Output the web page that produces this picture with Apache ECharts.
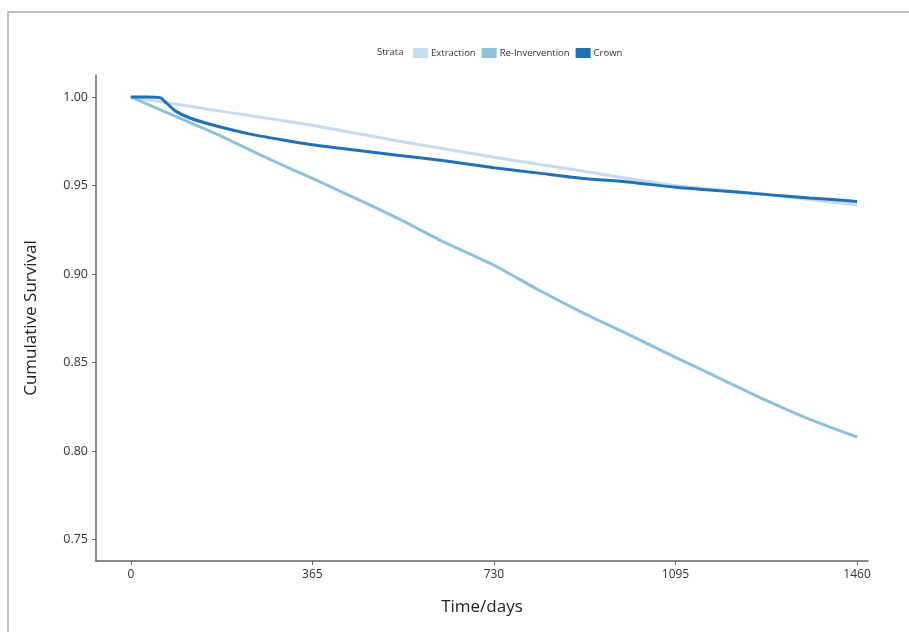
<!DOCTYPE html>
<html><head><meta charset="utf-8">
<script src="https://cdn.jsdelivr.net/npm/echarts@6/dist/echarts.min.js"></script>
<style>html,body{margin:0;padding:0;background:#fff}#c{width:909px;height:632px}</style>
</head><body><div id="c"></div>
<script>
const seriesNames = ['Extraction', 'Re-Invervention', 'Crown'];
const xTicks = [0, 365, 730, 1095, 1460];
const yTicks = [0.75, 0.80, 0.85, 0.90, 0.95, 1.00];

const extractionDays = [0, 90, 180, 365, 540, 730, 910, 1095, 1275, 1460];
const extractionVals = [1.000, 0.996, 0.992, 0.984, 0.975, 0.966, 0.958, 0.950, 0.945, 0.939];

const reintDays = [0, 90, 180, 270, 365, 450, 540, 630, 730, 820, 910, 1000, 1095, 1185, 1275, 1365, 1460];
const reintVals = [1.000, 0.989, 0.978, 0.966, 0.954, 0.943, 0.931, 0.918, 0.905, 0.891, 0.878, 0.866, 0.853, 0.841, 0.829, 0.818, 0.808];

const crownDays = [0, 30, 60, 70, 90, 120, 180, 240, 300, 365, 450, 540, 630, 730, 820, 910, 1000, 1095, 1185, 1275, 1365, 1460];
const crownVals = [1.000, 1.000, 0.9995, 0.997, 0.992, 0.988, 0.983, 0.979, 0.976, 0.973, 0.970, 0.967, 0.964, 0.960, 0.957, 0.954, 0.952, 0.949, 0.947, 0.945, 0.943, 0.941];

const colors = ['#c6dbef', '#8fc1dd', '#2171b5'];
const zip = (a, b) => a.map((d, i) => [d, b[i]]);

const chart = echarts.init(document.getElementById('c'));
chart.setOption({
  animation: false,
  graphic: [
    { type: 'rect', shape: { x: 8, y: 12, width: 1000, height: 700 }, style: { fill: 'none', stroke: '#aaaaaa', lineWidth: 1.5 } },
    { type: 'text', left: 377, top: 47, style: { text: 'Strata', fontSize: 9.5, fill: '#333', fontFamily: 'Open Sans' } }
  ],
  legend: {
    data: seriesNames,
    left: 408, top: 43,
    itemWidth: 15, itemHeight: 10, itemGap: 6,
    icon: 'rect',
    textStyle: { fontSize: 9.5, color: '#333', fontFamily: 'Open Sans', padding: [0, 0, 0, -2] }
  },
  grid: { left: 96, right: 41, top: 75, bottom: 71 },
  xAxis: {
    type: 'value', min: -70, max: 1482,
    name: 'Time/days', nameLocation: 'middle', nameGap: 38,
    nameTextStyle: { fontSize: 17, color: '#222', fontFamily: 'Open Sans' },
    axisLine: { show: true, onZero: false, lineStyle: { color: '#666', width: 1.5 } },
    axisTick: { show: true, customValues: xTicks, length: 4, lineStyle: { color: '#666' } },
    axisLabel: { customValues: xTicks, fontSize: 12, color: '#333', fontFamily: 'Open Sans', formatter: v => String(v) },
    splitLine: { show: false }
  },
  yAxis: {
    type: 'value', min: 0.738, max: 1.0124,
    name: 'Cumulative Survival', nameLocation: 'middle', nameGap: 56,
    nameTextStyle: { fontSize: 17, color: '#222', fontFamily: 'Open Sans' },
    axisLine: { show: true, onZero: false, lineStyle: { color: '#666', width: 1.5 } },
    axisTick: { show: true, customValues: yTicks, length: 4, lineStyle: { color: '#666' } },
    axisLabel: { customValues: yTicks, fontSize: 12.5, color: '#333', fontFamily: 'Open Sans', formatter: v => v.toFixed(2) },
    splitLine: { show: false }
  },
  series: [
    { name: seriesNames[0], type: 'line', data: zip(extractionDays, extractionVals), showSymbol: false, smooth: 0.2, lineStyle: { width: 3, color: colors[0] }, itemStyle: { color: colors[0] } },
    { name: seriesNames[1], type: 'line', data: zip(reintDays, reintVals), showSymbol: false, smooth: 0.2, lineStyle: { width: 3, color: colors[1] }, itemStyle: { color: colors[1] } },
    { name: seriesNames[2], type: 'line', data: zip(crownDays, crownVals), showSymbol: false, smooth: 0.2, lineStyle: { width: 3, color: colors[2] }, itemStyle: { color: colors[2] } }
  ]
});
</script></body></html>
